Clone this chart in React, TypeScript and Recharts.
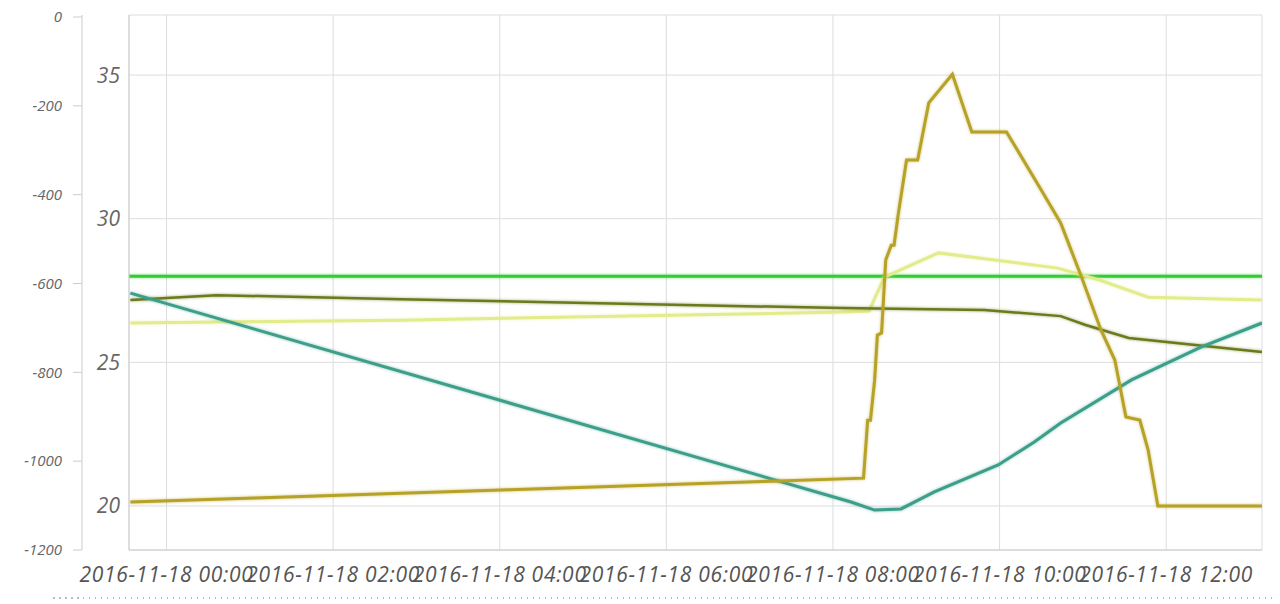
import { LineChart, Line, XAxis, YAxis, CartesianGrid } from "recharts";

// minutes since 2016-11-18 00:00
const xTicks = [0, 120, 240, 360, 480, 600, 720];
const leftTicks = [20, 25, 30, 35];
const outerTicks = [-1200, -1000, -800, -600, -400, -200, 0];

const greenT = [-27, 789];
const greenV = [28.0, 28.0];

const oliveT = [-26, 36, 169, 486, 589, 644, 662, 693, 789];
const oliveV = [27.17, 27.34, 27.2, 26.89, 26.82, 26.61, 26.3, 25.85, 25.36];

const paleT = [-26, 169, 486, 506, 517, 556, 642, 673, 707, 789];
const paleV = [26.37, 26.47, 26.75, 26.79, 27.97, 28.81, 28.28, 27.85, 27.27, 27.17];

const tealT = [-26, 493, 510, 529, 553, 599, 625, 644, 695, 745, 789];
const tealV = [27.41, 20.14, 19.86, 19.9, 20.49, 21.43, 22.23, 22.89, 24.39, 25.53, 26.37];

const mustardT = [-26, 502, 505, 507, 510, 512, 515, 518, 522, 524, 527, 533, 541, 549, 566, 580, 605, 630, 644, 659, 673, 683, 691, 701, 707, 714, 789];
const mustardV = [20.14, 20.97, 22.99, 22.99, 24.38, 25.95, 26.02, 28.56, 29.08, 29.08, 30.15, 32.04, 32.04, 34.03, 35.03, 33.02, 33.02, 31.0, 29.85, 27.97, 26.13, 25.08, 23.1, 22.99, 21.95, 20.0, 20.0];

const toRows = (t: number[], v: number[]) => t.map((x, i) => ({ t: x, v: v[i] }));

const fmtTime = (m: number) => `2016-11-18 ${String(Math.floor(m / 60)).padStart(2, "0")}:00`;

const font = "'Open Sans', sans-serif";

export default function App() {
  const series = [
    { name: "green", data: toRows(greenT, greenV), color: "#33cc33", width: 3 },
    { name: "pale", data: toRows(paleT, paleV), color: "#e2ec8c", width: 3 },
    { name: "olive", data: toRows(oliveT, oliveV), color: "#6b7a1c", width: 2.5 },
    { name: "teal", data: toRows(tealT, tealV), color: "#3d9e8a", width: 3 },
    { name: "mustard", data: toRows(mustardT, mustardV), color: "#b5a227", width: 3 },
  ];

  return (
    <div style={{ width: 1264, marginTop: -8, fontFamily: font }}>
      <LineChart width={1264} height={588} margin={{ top: 15, right: 10, bottom: 0, left: 0 }}>
        <CartesianGrid yAxisId="main" stroke="#dddddd" />
        <XAxis
          type="number"
          dataKey="t"
          domain={[-27, 789]}
          allowDataOverflow
          ticks={xTicks}
          interval={0}
          tickFormatter={fmtTime}
          height={38}
          tickLine={false}
          tickSize={0}
          tickMargin={17}
          axisLine={{ stroke: "#cccccc" }}
          tick={{ fill: "#555", fontSize: 21, fontStyle: "italic", fontFamily: font, letterSpacing: 0.7 }}
        />
        <XAxis xAxisId="top" orientation="top" type="number" domain={[-27, 789]} height={0} tick={false} tickLine={false} axisLine={{ stroke: "#dddddd" }} />
        <YAxis
          yAxisId="main"
          type="number"
          domain={[18.47, 37.09]}
          allowDataOverflow
          ticks={leftTicks}
          width={47}
          tickLine={false}
          tickSize={0}
          tickMargin={9}
          axisLine={{ stroke: "#cccccc" }}
          tick={{ fill: "#666", fontSize: 21, fontStyle: "italic", fontFamily: font }}
        />
        <YAxis
          yAxisId="outer"
          type="number"
          domain={[-1200, 4.5]}
          allowDataOverflow
          ticks={outerTicks}
          width={74}
          tickSize={9}
          tickMargin={11}
          tickLine={{ stroke: "#cccccc" }}
          axisLine={{ stroke: "#cccccc" }}
          tick={{ fill: "#666", fontSize: 15, fontStyle: "italic", fontFamily: font }}
        />
        <YAxis yAxisId="right" orientation="right" width={0} tick={false} tickLine={false} axisLine={{ stroke: "#dddddd" }} />
        {series.map((s) => (
          <Line
            key={s.name}
            yAxisId="main"
            data={s.data}
            dataKey="v"
            type="linear"
            stroke={s.color}
            strokeWidth={s.width}
            dot={false}
            activeDot={false}
            isAnimationActive={false}
            style={{ filter: `drop-shadow(0 0 1.5px ${s.color}99)` }}
          />
        ))}
      </LineChart>
      <div
        style={{
          marginTop: 9,
          marginLeft: 45,
          width: 1225,
          height: 1.5,
          backgroundImage: "repeating-linear-gradient(to right, #bbbbbb 0 1.5px, transparent 1.5px 6px)",
        }}
      />
    </div>
  );
}
